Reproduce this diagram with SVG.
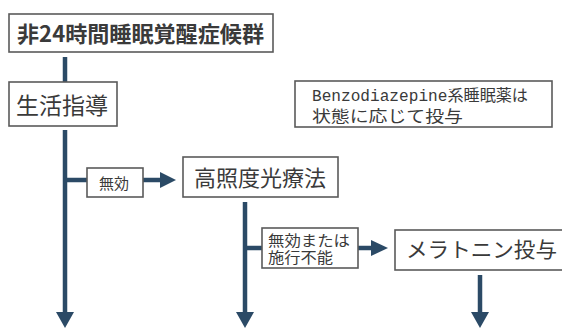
<svg xmlns="http://www.w3.org/2000/svg" width="562" height="329" viewBox="0 0 562 329">
<defs>
<style>
.box{fill:#fff;stroke:#5a5a5a;stroke-width:1.6}
.t{font-family:"Noto Sans CJK JP","Noto Sans",sans-serif;fill:#3a3a3a}
.s{font-family:"Liberation Sans","Noto Sans CJK JP",sans-serif;fill:#3a3a3a}
.m{font-family:"Liberation Mono","Noto Sans CJK JP",monospace;fill:#3a3a3a}
.ln{stroke:#2b4a66;stroke-width:4.5;fill:none}
.ah{fill:#2b4a66}
</style>
</defs>
<rect width="562" height="329" fill="#fff"/>
<g id="connectors">
<line class="ln" x1="65" y1="57" x2="65" y2="82"/>
<line class="ln" x1="65" y1="130" x2="65" y2="314"/>
<polygon class="ah" points="56,312 74,312 65,328"/>
<line class="ln" x1="65" y1="180" x2="87" y2="180"/>
<line class="ln" x1="143" y1="180" x2="162" y2="180"/>
<polygon class="ah" points="160,172 176,180 160,188"/>
<line class="ln" x1="245" y1="202" x2="245" y2="314"/>
<polygon class="ah" points="236,312 254,312 245,328"/>
<line class="ln" x1="245" y1="248" x2="262" y2="248"/>
<line class="ln" x1="358" y1="248" x2="373" y2="248"/>
<polygon class="ah" points="371,240 388,248 371,256"/>
<line class="ln" x1="480" y1="275" x2="480" y2="314"/>
<polygon class="ah" points="471,312 489,312 480,328"/>
</g>
<g id="n1">
<rect class="box" x="9" y="14" width="264" height="38"/>
<text class="t" x="17" y="42" font-size="22" font-weight="bold" textLength="247" lengthAdjust="spacingAndGlyphs">非24時間睡眠覚醒症候群</text>
</g>
<g id="n2">
<rect class="box" x="9" y="82" width="108" height="44"/>
<text class="t" x="16" y="114" font-size="23" textLength="92" lengthAdjust="spacingAndGlyphs">生活指導</text>
</g>
<g id="l1">
<rect class="box" x="87" y="168" width="56" height="29"/>
<text class="t" x="99" y="189" font-size="15">無効</text>
</g>
<g id="n3">
<rect class="box" x="183" y="157" width="155" height="40"/>
<text class="t" x="194" y="186" font-size="22" textLength="132" lengthAdjust="spacingAndGlyphs">高照度光療法</text>
</g>
<g id="l2">
<rect class="box" x="262" y="228" width="96" height="40"/>
<text class="s" font-size="15"><tspan x="268" y="245.5" textLength="82" lengthAdjust="spacingAndGlyphs">無効または</tspan><tspan x="268" y="262.5" textLength="65" lengthAdjust="spacingAndGlyphs">施行不能</tspan></text>
</g>
<g id="n4">
<rect class="box" x="395" y="230" width="172" height="40"/>
<text class="t" x="406" y="257" font-size="21" textLength="151" lengthAdjust="spacingAndGlyphs">メラトニン投与</text>
</g>
<g id="n5">
<rect class="box" x="295" y="81" width="257" height="46"/>
<text font-size="16"><tspan class="m" x="312" y="101" textLength="216" lengthAdjust="spacingAndGlyphs">Benzodiazepine系睡眠薬は</tspan><tspan class="s" x="312" y="122" textLength="151" lengthAdjust="spacingAndGlyphs">状態に応じて投与</tspan></text>
</g>
</svg>
